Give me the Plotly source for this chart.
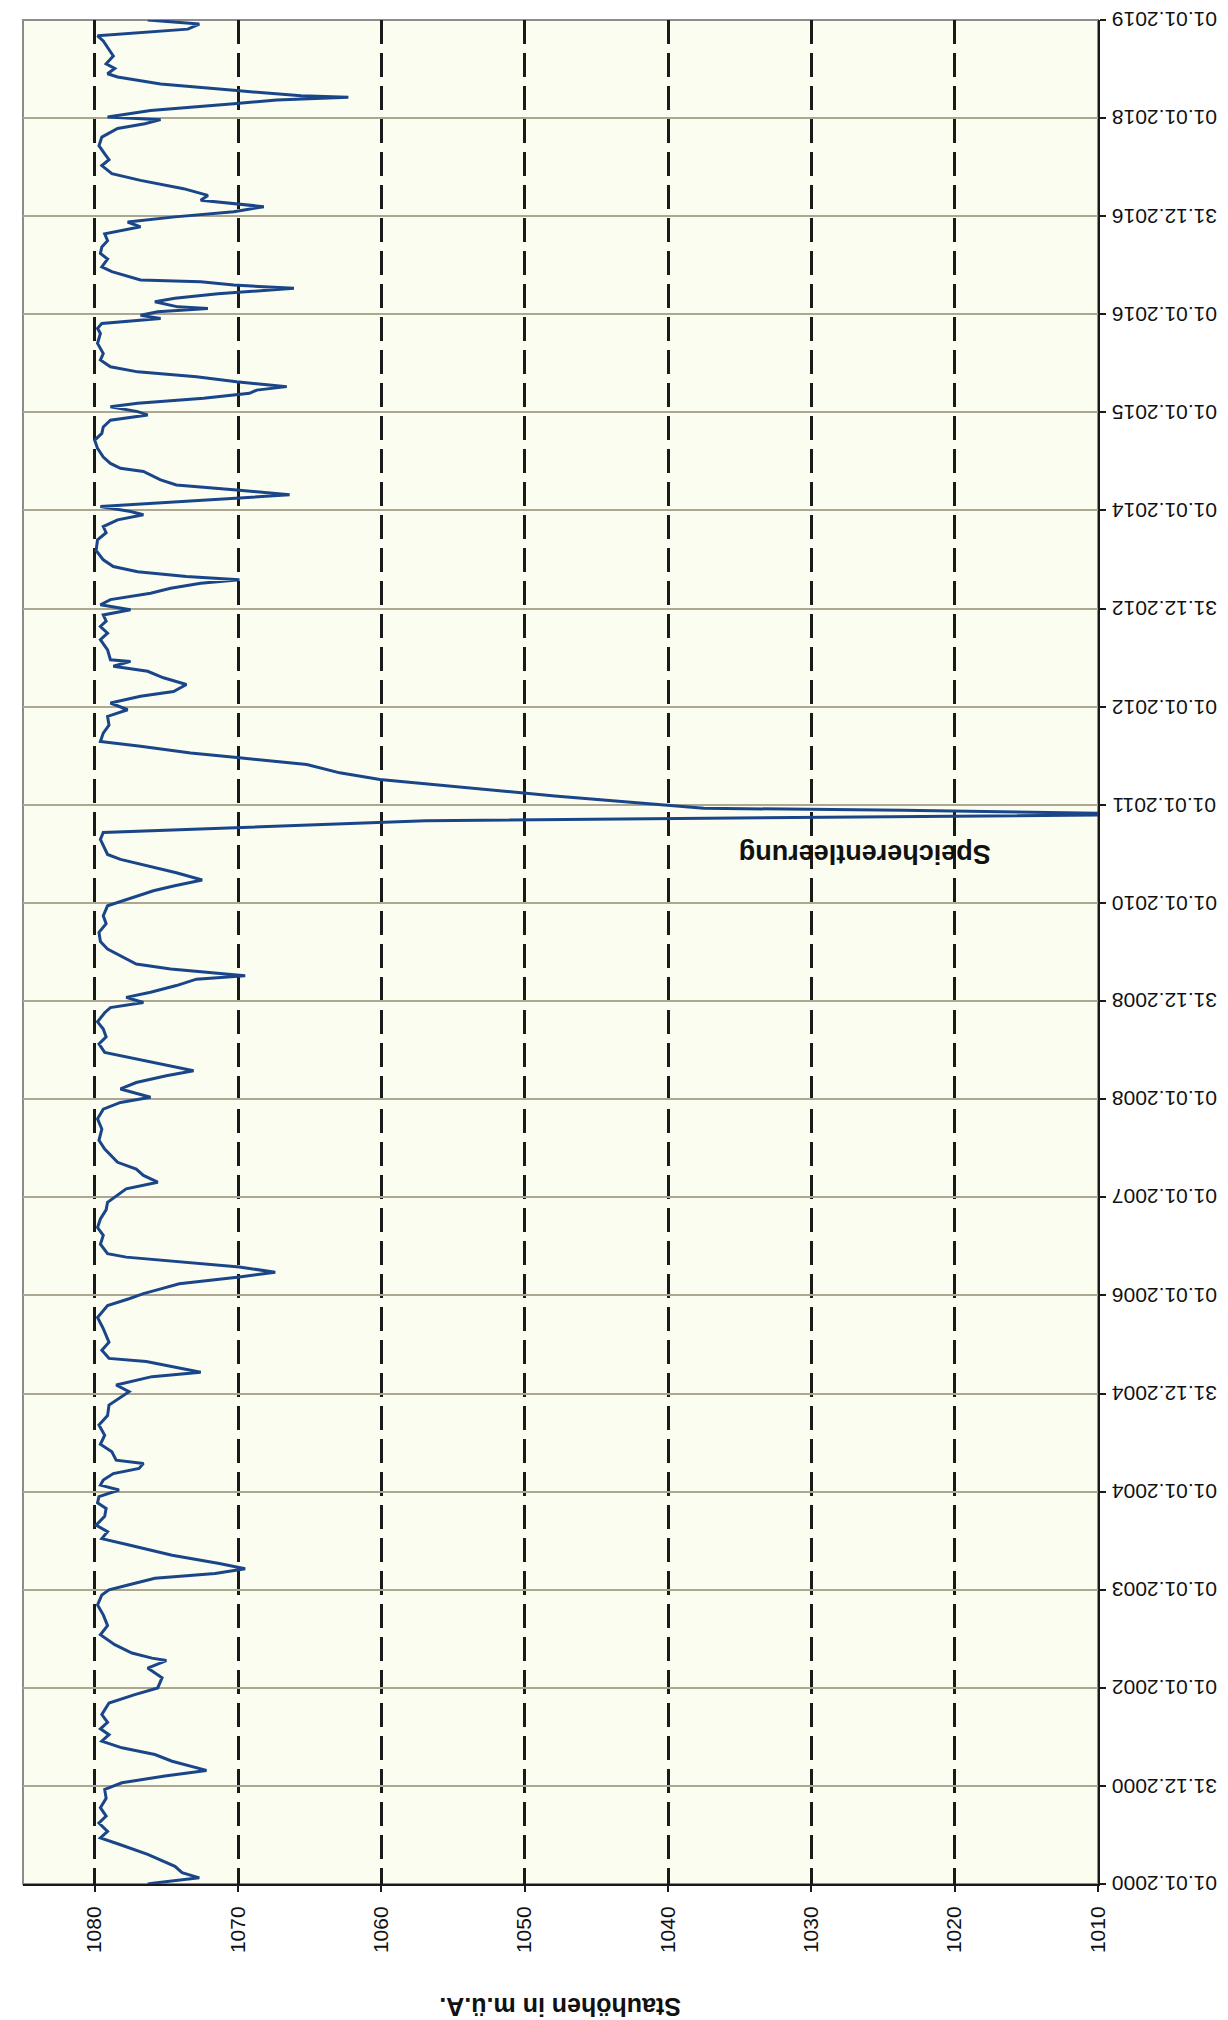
import plotly.graph_objects as go

# Stauhöhen (m ü.A.) over time (one year per line)
dates = [
    "2000-01-01", "2000-01-05", "2000-01-24", "2000-02-12", "2000-03-07", "2000-04-20", "2000-05-28", "2000-06-21", "2000-07-15", "2000-08-15", "2000-09-10", "2000-10-11", "2000-11-15", "2000-12-18",
    "2001-01-12", "2001-02-06", "2001-02-27", "2001-04-02", "2001-04-27", "2001-05-22", "2001-06-16", "2001-07-10", "2001-08-01", "2001-08-25", "2001-09-23", "2001-11-05", "2001-12-06", "2001-12-31",
    "2002-02-07", "2002-03-15", "2002-04-12", "2002-04-21", "2002-05-10", "2002-06-10", "2002-07-17", "2002-08-20", "2002-09-29", "2002-11-05", "2002-12-12", "2002-12-31",
    "2003-01-19", "2003-02-12", "2003-03-02", "2003-03-20", "2003-04-08", "2003-05-09", "2003-06-16", "2003-07-10", "2003-08-05", "2003-08-29", "2003-10-01", "2003-10-30", "2003-11-20", "2003-12-13",
    "2004-01-07", "2004-01-25", "2004-02-13", "2004-03-08", "2004-03-27", "2004-04-15", "2004-04-27", "2004-05-28", "2004-06-25", "2004-07-29", "2004-09-05", "2004-10-10", "2004-11-18", "2004-12-13",
    "2005-01-07", "2005-02-01", "2005-03-04", "2005-03-20", "2005-04-10", "2005-04-29", "2005-05-11", "2005-06-10", "2005-07-10", "2005-08-30", "2005-10-10", "2005-11-24", "2005-12-19",
    "2006-01-07", "2006-01-20", "2006-02-13", "2006-03-10", "2006-03-28", "2006-04-16", "2006-05-05", "2006-05-23", "2006-06-05", "2006-07-10", "2006-08-12", "2006-09-10", "2006-10-12", "2006-11-15", "2006-12-13",
    "2007-01-08", "2007-02-01", "2007-02-26", "2007-03-23", "2007-04-16", "2007-05-11", "2007-06-29", "2007-08-01", "2007-09-12", "2007-10-20", "2007-11-25", "2007-12-20",
    "2008-01-08", "2008-02-08", "2008-03-03", "2008-03-28", "2008-04-16", "2008-05-11", "2008-06-05", "2008-06-23", "2008-07-25", "2008-08-20", "2008-09-18", "2008-10-15", "2008-11-18", "2008-12-07", "2008-12-26",
    "2009-01-14", "2009-02-02", "2009-02-27", "2009-03-23", "2009-04-05", "2009-04-17", "2009-04-30", "2009-05-18", "2009-06-18", "2009-07-13", "2009-08-10", "2009-09-13", "2009-10-15", "2009-11-14", "2009-12-21",
    "2010-01-15", "2010-02-15", "2010-03-05", "2010-03-27", "2010-04-23", "2010-05-18", "2010-06-12", "2010-06-30", "2010-07-31", "2010-08-25", "2010-09-20", "2010-10-08", "2010-11-03", "2010-11-24", "2010-12-01", "2010-12-12", "2010-12-19",
    "2011-02-03", "2011-03-18", "2011-04-05", "2011-04-30", "2011-05-31", "2011-06-25", "2011-07-13", "2011-08-07", "2011-08-25", "2011-09-25", "2011-10-25", "2011-11-26", "2011-12-21",
    "2012-01-15", "2012-02-09", "2012-02-27", "2012-03-24", "2012-04-18", "2012-05-12", "2012-05-31", "2012-06-18", "2012-06-24", "2012-07-31", "2012-09-07", "2012-10-01", "2012-10-26", "2012-11-15", "2012-12-08", "2012-12-27",
    "2013-01-15", "2013-02-03", "2013-02-27", "2013-03-17", "2013-04-05", "2013-04-18", "2013-04-30", "2013-05-18", "2013-06-06", "2013-07-01", "2013-08-05", "2013-09-14", "2013-10-10", "2013-11-02", "2013-11-27", "2013-12-16", "2013-12-28",
    "2014-01-16", "2014-01-28", "2014-02-16", "2014-02-28", "2014-03-18", "2014-04-06", "2014-04-25", "2014-05-26", "2014-06-07", "2014-06-25", "2014-07-19", "2014-08-20", "2014-09-20", "2014-10-15", "2014-11-08", "2014-12-03", "2014-12-22",
    "2015-01-04", "2015-01-22", "2015-02-04", "2015-02-23", "2015-03-13", "2015-03-25", "2015-04-07", "2015-04-13", "2015-04-25", "2015-05-14", "2015-06-01", "2015-06-20", "2015-07-15", "2015-08-08", "2015-09-15", "2015-10-22", "2015-11-10", "2015-11-28", "2015-12-17", "2015-12-29",
    "2016-01-11", "2016-01-23", "2016-01-29", "2016-02-17", "2016-03-01", "2016-03-18", "2016-04-07", "2016-04-19", "2016-05-01", "2016-05-08", "2016-06-08", "2016-06-26", "2016-07-25", "2016-08-15", "2016-09-08", "2016-10-01", "2016-10-27", "2016-11-22", "2016-12-10", "2016-12-29",
    "2017-01-17", "2017-02-05", "2017-03-01", "2017-03-19", "2017-04-13", "2017-05-14", "2017-06-08", "2017-07-08", "2017-07-30", "2017-08-21", "2017-09-20", "2017-10-22", "2017-11-23", "2017-12-11", "2017-12-26",
    "2018-01-05", "2018-01-29", "2018-02-23", "2018-03-09", "2018-03-19", "2018-03-25", "2018-04-14", "2018-05-08", "2018-06-03", "2018-06-15", "2018-07-05", "2018-07-22", "2018-08-20", "2018-09-22", "2018-10-15", "2018-11-03", "2018-11-28", "2018-12-17",
    "2019-01-01",
]
levels = [
    1076.3, 1075.8, 1072.7, 1073.9, 1074.4, 1076.3, 1078.3, 1079.6, 1079.1, 1079.7, 1079.2, 1079.6, 1079.2, 1079.3,
    1078.1, 1075.1, 1072.2, 1074.6, 1075.8, 1078.1, 1079.5, 1079.0, 1079.6, 1079.1, 1079.5, 1079.0, 1077.2, 1075.6,
    1075.3, 1076.3, 1075.0, 1076.0, 1077.4, 1078.6, 1079.6, 1079.1, 1079.4, 1079.8, 1079.5, 1079.0,
    1077.6, 1075.8, 1071.6, 1069.5, 1071.3, 1074.6, 1077.6, 1079.5, 1079.1, 1079.9, 1079.3, 1079.2, 1079.8, 1079.7,
    1078.3, 1079.6, 1079.4, 1078.7, 1076.9, 1076.6, 1078.5, 1078.8, 1079.6, 1079.3, 1079.7, 1079.1, 1079.0, 1078.3,
    1077.6, 1078.5, 1076.0, 1072.6, 1074.6, 1076.4, 1079.0, 1079.5, 1079.0, 1079.4, 1079.8, 1079.1, 1077.6,
    1076.6, 1075.7, 1074.1, 1069.9, 1067.4, 1069.9, 1074.1, 1077.8, 1079.1, 1079.6, 1079.4, 1079.8, 1079.6, 1079.2, 1079.1,
    1078.4, 1077.8, 1075.6, 1076.6, 1077.1, 1078.4, 1079.3, 1079.7, 1079.5, 1079.8, 1079.4, 1078.2,
    1076.1, 1078.2, 1077.1, 1075.0, 1073.1, 1075.4, 1077.8, 1079.3, 1079.7, 1079.2, 1079.4, 1079.8, 1079.3, 1078.9, 1076.6,
    1077.8, 1076.1, 1074.3, 1072.9, 1069.5, 1072.0, 1074.7, 1077.1, 1078.2, 1079.1, 1079.6, 1079.7, 1079.2, 1079.4, 1079.1,
    1077.7, 1075.9, 1074.5, 1072.5, 1074.3, 1076.3, 1078.2, 1079.1, 1079.4, 1079.6, 1079.4, 1069.9, 1056.9, 1010.0, 1010.0, 1023.6, 1037.5,
    1047.9, 1056.9, 1060.1, 1062.9, 1065.2, 1069.9, 1073.3, 1076.8, 1079.6, 1079.4, 1079.0, 1079.1, 1077.7,
    1078.9, 1076.8, 1074.5, 1073.6, 1075.2, 1076.3, 1078.7, 1077.5, 1078.9, 1079.1, 1079.6, 1079.1, 1079.6, 1079.2, 1079.4, 1077.5,
    1079.6, 1078.9, 1076.1, 1074.7, 1072.6, 1069.9, 1073.6, 1077.0, 1078.7, 1079.4, 1079.9, 1079.8, 1079.2, 1079.4, 1078.4, 1076.6, 1077.5,
    1079.6, 1075.9, 1070.1, 1066.4, 1070.1, 1074.3, 1075.4, 1076.6, 1078.2, 1078.9, 1079.4, 1079.8, 1080.0, 1079.5, 1079.4, 1078.9, 1076.3,
    1077.0, 1078.9, 1077.0, 1072.4, 1069.2, 1068.7, 1066.6, 1067.8, 1070.1, 1072.9, 1077.0, 1078.9, 1079.6, 1079.4, 1079.8, 1079.6, 1079.8, 1079.5, 1075.4, 1076.8,
    1075.6, 1072.1, 1074.2, 1075.8, 1074.4, 1071.4, 1066.1, 1070.3, 1072.6, 1076.8, 1078.8, 1079.5, 1079.1, 1079.6, 1079.5, 1079.1, 1079.3, 1076.8, 1077.7, 1074.4,
    1070.3, 1068.2, 1072.6, 1072.1, 1073.8, 1076.8, 1078.8, 1079.5, 1079.0, 1079.3, 1079.7, 1079.5, 1078.4, 1076.5, 1075.4,
    1079.1, 1076.1, 1070.3, 1067.3, 1062.3, 1065.6, 1070.3, 1075.4, 1078.4, 1079.1, 1078.6, 1079.2, 1078.7, 1079.1, 1079.4, 1079.8, 1073.5, 1072.7,
    1076.3,
]
assert len(dates) == len(levels)

level_ticks = [1080, 1070, 1060, 1050, 1040, 1030, 1020, 1010]
level_ticktext = ["1080", "1070", "1060", "1050", "1040", "1030", "1020", "1010"]

date_ticks = [
    "2000-01-01", "2000-12-31", "2002-01-01", "2003-01-01", "2004-01-01", "2004-12-31", "2006-01-01",
    "2007-01-01", "2008-01-01", "2008-12-31", "2010-01-01", "2011-01-01", "2012-01-01", "2012-12-31",
    "2014-01-01", "2015-01-01", "2016-01-01", "2016-12-31", "2018-01-01", "2019-01-01",
]
date_ticktext = [
    "01.01.2000", "31.12.2000", "01.01.2002", "01.01.2003", "01.01.2004", "31.12.2004", "01.01.2006",
    "01.01.2007", "01.01.2008", "31.12.2008", "01.01.2010", "01.01.2011", "01.01.2012", "31.12.2012",
    "01.01.2014", "01.01.2015", "01.01.2016", "31.12.2016", "01.01.2018", "01.01.2019",
]

axis_title = "Stauhöhen in m.ü.A."
event_label = "Speicherentleerung"
event_level = 1026.3
event_date = "2010-07-01"

FONT = "Liberation Sans, Arial, sans-serif"
INK = "#111111"

fig = go.Figure()
fig.add_trace(go.Scatter(
    x=levels, y=dates, mode="lines",
    line=dict(color="#1a4689", width=3),
    showlegend=False, hoverinfo="skip",
))

annotations = [
    dict(
        text=axis_title, xref="paper", yref="paper", x=0.5, y=-0.066,
        xanchor="center", yanchor="middle", showarrow=False, textangle=180,
        font=dict(size=25, family=FONT, color=INK, weight="bold"),
    ),
    dict(
        text=event_label, xref="x", yref="y", x=event_level, y=event_date,
        xanchor="center", yanchor="middle", showarrow=False, textangle=180,
        font=dict(size=27, family=FONT, color=INK, weight="bold"),
    ),
]
for d, lab in zip(date_ticks, date_ticktext):
    annotations.append(dict(
        text=lab, xref="paper", yref="y", x=1, y=d,
        xanchor="left", yanchor="middle", xshift=12, showarrow=False, textangle=180,
        font=dict(size=21, family=FONT, color=INK),
    ))

fig.update_layout(
    width=1228, height=2020,
    margin=dict(l=15, r=138, t=12, b=144),
    paper_bgcolor="white",
    plot_bgcolor="#fbfdf0",
    font=dict(family=FONT, color=INK, size=21),
    xaxis=dict(
        range=[1085, 1010], automargin=False,
        tickmode="array", tickvals=level_ticks, ticktext=level_ticktext,
        tickangle=-90,
        tickfont=dict(size=21, family=FONT, color=INK),
        showgrid=True, gridcolor="#1a1a1a", gridwidth=2.5, griddash="24px,9px",
        showline=True, linecolor="#1a1a1a", linewidth=2,
        ticks="outside", ticklen=6, tickcolor="#1a1a1a", tickwidth=1.5,
        ticklabelstandoff=6,
        zeroline=False,
    ),
    yaxis=dict(
        type="date", automargin=False,
        range=["2000-01-01", "2019-01-01"],
        side="right",
        tickmode="array", tickvals=date_ticks,
        showticklabels=False,
        showgrid=True, gridcolor="#aca791", gridwidth=2,
        showline=True, linecolor="#1a1a1a", linewidth=2,
        ticks="outside", ticklen=6, tickcolor="#1a1a1a", tickwidth=1.5,
        zeroline=False,
    ),
    shapes=[dict(
        type="rect", xref="paper", yref="paper", x0=0, x1=1, y0=0, y1=1,
        line=dict(color="#8c8c8c", width=2), layer="below",
    )],
    annotations=annotations,
)

fig.write_html("out.html")
